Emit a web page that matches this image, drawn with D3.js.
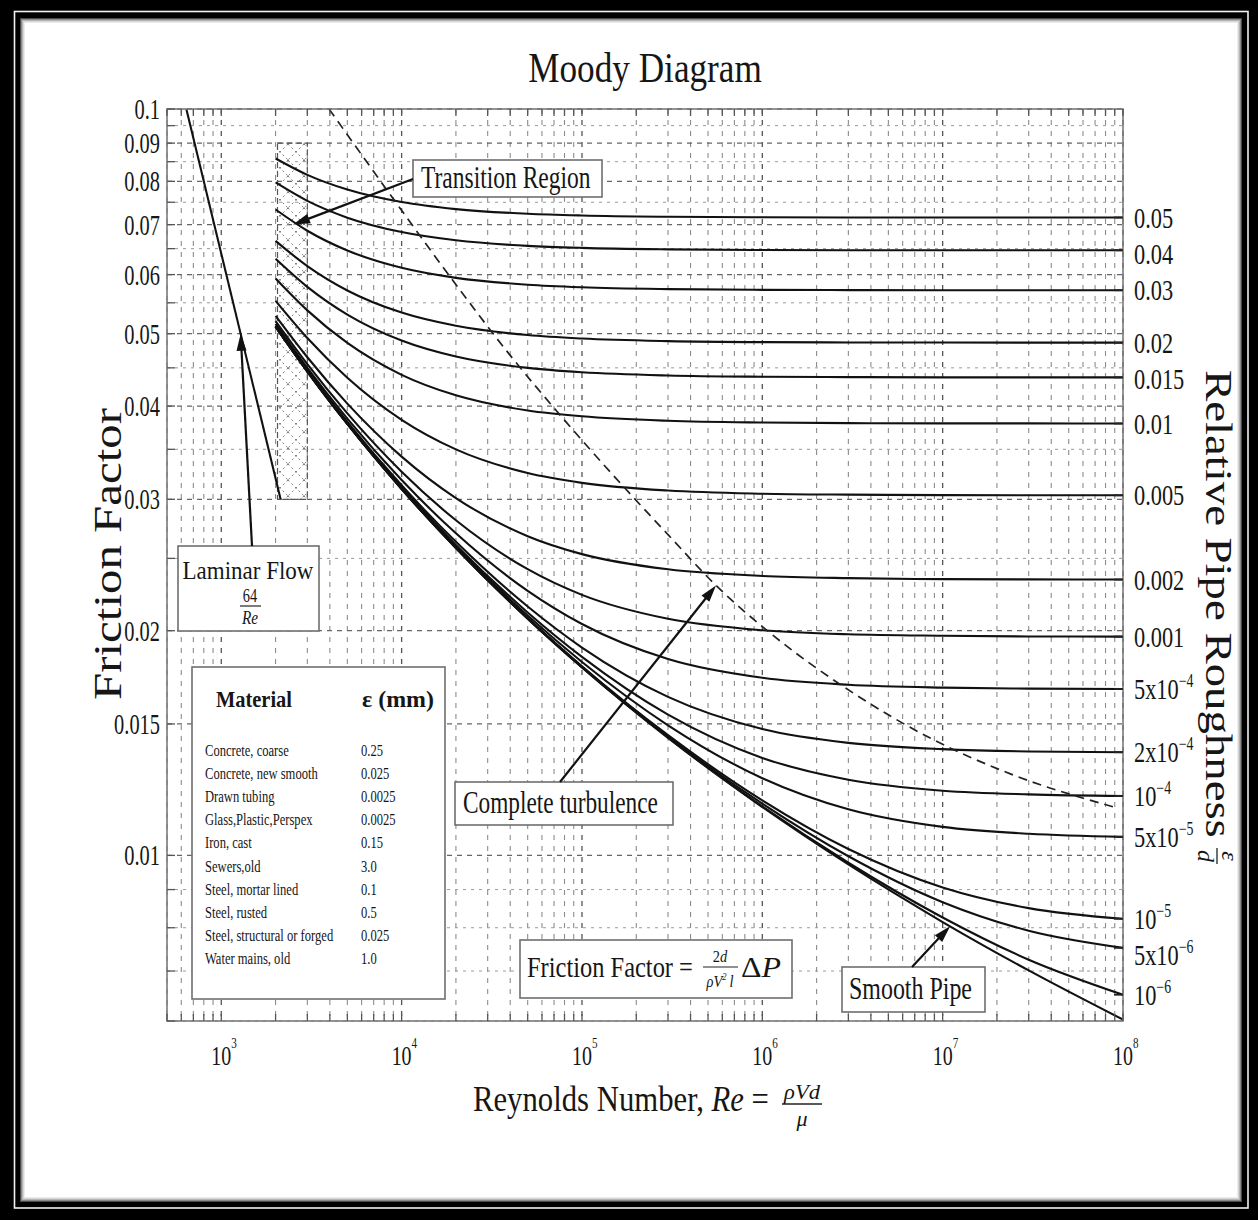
<!DOCTYPE html>
<html><head><meta charset="utf-8">
<script src="https://cdn.jsdelivr.net/npm/d3@7"></script>
<style>
body{margin:0;background:#000}
svg{display:block}
text{font-family:"Liberation Serif","Times New Roman",serif;fill:#161616}
</style>
</head><body>
<svg id="c" width="1258" height="1220"></svg>
<script>
// ---------------- DATA ----------------
const reynolds = [2000, 3000, 5000, 1e4, 2e4, 5e4, 1e5, 3e5, 1e6, 3e6, 1e7, 3e7, 1e8];
const roughness = [0.05, 0.04, 0.03, 0.02, 0.015, 0.01, 0.005, 0.002, 0.001, 5e-4, 2e-4, 1e-4, 5e-5, 1e-5, 5e-6, 1e-6];
const roughnessBase = ["0.05","0.04","0.03","0.02","0.015","0.01","0.005","0.002","0.001","5x10","2x10","10","5x10","10","5x10","10"];
const roughnessExp  = ["","","","","","","","","","\u22124","\u22124","\u22124","\u22125","\u22125","\u22126","\u22126"];

const fRough0_05   = [0.08584, 0.08161, 0.07799, 0.07504, 0.07343, 0.07238, 0.07200, 0.07172, 0.07161, 0.07157, 0.07156, 0.07155, 0.07155];
const fRough0_04   = [0.07972, 0.07532, 0.07152, 0.06841, 0.06669, 0.06556, 0.06515, 0.06485, 0.06473, 0.06469, 0.06468, 0.06467, 0.06467];
const fRough0_03   = [0.07334, 0.06869, 0.06463, 0.06127, 0.05940, 0.05816, 0.05770, 0.05737, 0.05724, 0.05720, 0.05718, 0.05717, 0.05717];
const fRough0_02   = [0.06658, 0.06159, 0.05713, 0.05336, 0.05123, 0.04979, 0.04926, 0.04887, 0.04871, 0.04867, 0.04865, 0.04864, 0.04864];
const fRough0_015  = [0.06302, 0.05778, 0.05304, 0.04895, 0.04659, 0.04499, 0.04439, 0.04395, 0.04378, 0.04373, 0.04370, 0.04369, 0.04369];
const fRough0_01   = [0.05928, 0.05373, 0.04859, 0.04404, 0.04134, 0.03946, 0.03875, 0.03822, 0.03801, 0.03794, 0.03792, 0.03791, 0.03790];
const fRough0_005  = [0.05533, 0.04934, 0.04364, 0.03833, 0.03499, 0.03253, 0.03156, 0.03082, 0.03052, 0.03043, 0.03039, 0.03037, 0.03037];
const fRough0_002  = [0.05283, 0.04650, 0.04030, 0.03422, 0.03011, 0.02677, 0.02533, 0.02417, 0.02368, 0.02352, 0.02345, 0.02343, 0.02342];
const fRough0_001  = [0.05197, 0.04551, 0.03910, 0.03266, 0.02812, 0.02418, 0.02234, 0.02075, 0.02003, 0.01978, 0.01969, 0.01965, 0.01964];
const fRough5e_4   = [0.05153, 0.04500, 0.03848, 0.03184, 0.02701, 0.02262, 0.02042, 0.01833, 0.01730, 0.01693, 0.01678, 0.01673, 0.01671];
const fRough2e_4   = [0.05127, 0.04470, 0.03810, 0.03132, 0.02631, 0.02155, 0.01899, 0.01631, 0.01477, 0.01415, 0.01388, 0.01378, 0.01375];
const fRough1e_4   = [0.05118, 0.04460, 0.03797, 0.03115, 0.02606, 0.02116, 0.01845, 0.01544, 0.01351, 0.01263, 0.01221, 0.01207, 0.01201];
const fRough5e_5   = [0.05114, 0.04454, 0.03791, 0.03106, 0.02594, 0.02096, 0.01816, 0.01494, 0.01269, 0.01153, 0.01092, 0.01069, 0.01059];
const fRough1e_5   = [0.05110, 0.04450, 0.03786, 0.03099, 0.02584, 0.02080, 0.01792, 0.01449, 0.01185, 0.01020, 0.009059, 0.008500, 0.008224];
const fRough5e_6   = [0.05109, 0.04449, 0.03785, 0.03098, 0.02583, 0.02078, 0.01789, 0.01443, 0.01173, 0.009974, 0.008657, 0.007927, 0.007519];
const fRough1e_6   = [0.05109, 0.04449, 0.03785, 0.03097, 0.02581, 0.02076, 0.01787, 0.01439, 0.01163, 0.009776, 0.008258, 0.007249, 0.006506];
const fSmooth      = [0.05109, 0.04449, 0.03785, 0.03097, 0.02581, 0.02076, 0.01786, 0.01437, 0.01161, 0.009724, 0.008142, 0.007013, 0.006026];

const laminarRe = [640, 2133];
const laminarF  = [0.1, 0.03];
const transitionRe = [2050, 3000];
const transitionF  = [0.03, 0.09];

const turbulenceRe = [3957, 10440, 21070, 39900, 78500, 154400, 300000, 553500, 1.161e6, 3.184e6, 8.73e6, 2.393e7, 9.385e7];
const turbulenceF  = [0.1, 0.0721, 0.0572, 0.0468, 0.0385, 0.0320, 0.0269, 0.0230, 0.01967, 0.01651, 0.01432, 0.01285, 0.01157];

const yTickValues = [0.1, 0.09, 0.08, 0.07, 0.06, 0.05, 0.04, 0.03, 0.02, 0.015, 0.01];
const yTickLabels = ["0.1","0.09","0.08","0.07","0.06","0.05","0.04","0.03","0.02","0.015","0.01"];
const yMinorGrid  = [0.006, 0.007, 0.008, 0.009, 0.025, 0.035, 0.045, 0.055, 0.065, 0.075, 0.085, 0.095];
const xTickValues = [1e3, 1e4, 1e5, 1e6, 1e7, 1e8];
const xTickExp    = ["3","4","5","6","7","8"];

const materials = ["Concrete, coarse","Concrete, new smooth","Drawn tubing","Glass,Plastic,Perspex","Iron, cast","Sewers,old","Steel, mortar lined","Steel, rusted","Steel, structural or forged","Water mains, old"];
const materialEps = ["0.25","0.025","0.0025","0.0025","0.15","3.0","0.1","0.5","0.025","1.0"];

const frictionCurves = [fRough0_05, fRough0_04, fRough0_03, fRough0_02, fRough0_015, fRough0_01, fRough0_005,
  fRough0_002, fRough0_001, fRough5e_4, fRough2e_4, fRough1e_4, fRough5e_5, fRough1e_5, fRough5e_6, fRough1e_6, fSmooth];

// ---------------- SETUP ----------------
const W = 1258, H = 1220;
const svg = d3.select('#c');
const x = d3.scaleLog().domain([500, 1e8]).range([167, 1123]);
const y = d3.scaleLog().domain([0.006, 0.1]).range([1021, 109]);
const X0 = x.range()[0], X1 = x.range()[1], Y0 = y.range()[1], Y1 = y.range()[0];

function label(parent, o) {
  const g = parent.append('g');
  const t = g.append('text').attr('font-size', o.size).attr('text-anchor', o.anchor || 'start');
  if (o.weight) t.attr('font-weight', o.weight);
  if (o.style) t.attr('font-style', o.style);
  (o.parts || [{t: o.text}]).forEach(p => {
    const ts = t.append('tspan').text(p.t);
    if (p.size) ts.attr('font-size', p.size);
    if (p.dy) ts.attr('dy', p.dy);
    if (p.style) ts.attr('font-style', p.style);
  });
  let s = o.sx || 1;
  if (o.width) { const w = t.node().getBBox().width; s = o.width / w; }
  g.attr('transform', `translate(${o.x},${o.y}) rotate(${o.rotate || 0}) scale(${s},1)`);
  return g;
}

// ---------------- FRAME ----------------
svg.append('rect').attr('width', W).attr('height', H).attr('fill', '#000');
svg.append('rect').attr('x', 14.5).attr('y', 11.5).attr('width', 1248 - 14.5).attr('height', 1208 - 11.5)
  .attr('fill', 'none').attr('stroke', '#f2f2f2').attr('stroke-width', 1.6);
svg.append('rect').attr('x', 20).attr('y', 18).attr('width', 1242 - 20).attr('height', 1202 - 18).attr('fill', '#fff');
['#4a4a4a', '#8a8a8a', '#b5b5b5', '#d6d6d6', '#ececec'].forEach((c, i) => {
  svg.append('rect').attr('x', 20.5 + i).attr('y', 18.5 + i).attr('width', 1242 - 20 - 1 - 2 * i).attr('height', 1202 - 18 - 1 - 2 * i)
    .attr('fill', 'none').attr('stroke', c).attr('stroke-width', 1);
});

// ---------------- GRID ----------------
const grid = svg.append('g');
const xGrid = [];
for (let e = 2; e <= 7; e++) for (let m = 1; m <= 9; m++) { const v = m * Math.pow(10, e); if (v >= 500 && v <= 1e8) xGrid.push(v); }
xGrid.push(1e8);
grid.selectAll('line.vx').data(xGrid).join('line')
  .attr('x1', d => x(d)).attr('x2', d => x(d)).attr('y1', Y0).attr('y2', Y1)
  .attr('stroke', d => xTickValues.includes(d) ? '#555' : '#8c8c8c')
  .attr('stroke-width', d => xTickValues.includes(d) ? 1.3 : 1.1)
  .attr('stroke-dasharray', '5,6');
grid.selectAll('line.hmin').data(yMinorGrid).join('line')
  .attr('x1', X0).attr('x2', X1).attr('y1', d => y(d)).attr('y2', d => y(d))
  .attr('stroke', '#9a9a9a').attr('stroke-width', 1).attr('stroke-dasharray', '3,5');
grid.selectAll('line.hmaj').data(yTickValues).join('line')
  .attr('x1', X0).attr('x2', X1).attr('y1', d => y(d)).attr('y2', d => y(d))
  .attr('stroke', '#666').attr('stroke-width', 1.3).attr('stroke-dasharray', '5,5');

// ---------------- TRANSITION HATCH ----------------
const defs = svg.append('defs');
const pat = defs.append('pattern').attr('id', 'hatch').attr('patternUnits', 'userSpaceOnUse').attr('width', 16).attr('height', 16);
pat.append('path').attr('d', 'M0,0L16,16M16,0L0,16').attr('stroke', '#7a7a7a').attr('stroke-width', 1).attr('stroke-dasharray', '2,3').attr('fill', 'none');
svg.append('rect')
  .attr('x', x(transitionRe[0])).attr('y', y(transitionF[1]))
  .attr('width', x(transitionRe[1]) - x(transitionRe[0])).attr('height', y(transitionF[0]) - y(transitionF[1]))
  .attr('fill', 'url(#hatch)').attr('stroke', '#555').attr('stroke-width', 1.2).attr('stroke-dasharray', '6,3');

// ---------------- CURVES ----------------
const line = d3.line().x(d => x(d[0])).y(d => y(d[1])).curve(d3.curveMonotoneX);
svg.append('g').selectAll('path').data(frictionCurves).join('path')
  .attr('d', c => line(reynolds.map((r, i) => [r, c[i]])))
  .attr('fill', 'none').attr('stroke', '#111').attr('stroke-width', 2.1);
svg.append('path').attr('d', d3.line().x(d => x(d[0])).y(d => y(d[1]))(laminarRe.map((r, i) => [r, laminarF[i]])))
  .attr('fill', 'none').attr('stroke', '#111').attr('stroke-width', 2.1);
svg.append('path').attr('d', line(turbulenceRe.map((r, i) => [r, turbulenceF[i]])))
  .attr('fill', 'none').attr('stroke', '#222').attr('stroke-width', 1.7).attr('stroke-dasharray', '9,6');

// ---------------- AXES BOX & TICKS ----------------
svg.append('rect').attr('x', X0).attr('y', Y0).attr('width', X1 - X0).attr('height', Y1 - Y0)
  .attr('fill', 'none').attr('stroke', '#7a7a7a').attr('stroke-width', 1.6);
const ticks = svg.append('g').attr('stroke', '#555').attr('stroke-width', 1.3);
ticks.selectAll('line.lt').data(yTickValues.concat(yMinorGrid)).join('line')
  .attr('x1', X0).attr('x2', X0 + 8).attr('y1', d => y(d)).attr('y2', d => y(d));
ticks.selectAll('line.bt').data(xGrid).join('line')
  .attr('x1', d => x(d)).attr('x2', d => x(d)).attr('y1', Y1).attr('y2', Y1 - 7);
ticks.selectAll('line.tt').data(xGrid).join('line')
  .attr('x1', d => x(d)).attr('x2', d => x(d)).attr('y1', Y0).attr('y2', Y0 + 7);
const endF = frictionCurves.slice(0, roughness.length).map(c => c[c.length - 1]);
ticks.selectAll('line.rt').data(endF).join('line')
  .attr('x1', X1).attr('x2', X1 - 9).attr('y1', d => y(d)).attr('y2', d => y(d)).attr('stroke', '#222').attr('stroke-width', 1.8);

// ---------------- AXIS LABELS ----------------
yTickValues.forEach((v, i) => label(svg, {x: 160, y: y(v) + 10, size: 30, sx: 0.68, anchor: 'end', text: yTickLabels[i]}));
xTickValues.forEach((v, i) => label(svg, {x: x(v) - 10, y: 1065, size: 27, sx: 0.74,
  parts: [{t: '10'}, {t: xTickExp[i], size: 15, dy: -17}]}));

// right roughness labels with collision avoidance
const ry = endF.map(f => y(f));
for (let i = 1; i < ry.length; i++) if (ry[i] - ry[i - 1] < 36) ry[i] = ry[i - 1] + 36;
roughness.forEach((r, i) => {
  const parts = [{t: roughnessBase[i]}];
  if (roughnessExp[i]) parts.push({t: roughnessExp[i], size: 18, dy: -12});
  label(svg, {x: 1134, y: ry[i] + 10, size: 29, sx: 0.77, parts});
});

// Titles
label(svg, {x: 645, y: 82, size: 42, width: 234, anchor: 'middle', text: 'Moody Diagram'});
label(svg, {x: 121, y: 554, size: 39, width: 292, anchor: 'middle', rotate: -90, text: 'Friction Factor'});
label(svg, {x: 1206, y: 370, size: 37, width: 468, anchor: 'start', rotate: 90, text: 'Relative Pipe Roughness'});
// epsilon / d fraction (rotated)
const fr = svg.append('g').attr('transform', 'translate(1206,856) rotate(90)');
fr.append('text').attr('font-size', 24).attr('font-style', 'italic').attr('text-anchor', 'middle').attr('y', -16).text('\u03b5');
fr.append('line').attr('x1', -8).attr('x2', 8).attr('y1', -11).attr('y2', -11).attr('stroke', '#222').attr('stroke-width', 1.3);
fr.append('text').attr('font-size', 24).attr('font-style', 'italic').attr('text-anchor', 'middle').attr('y', 8).text('d');

label(svg, {x: 473, y: 1111, size: 35, width: 296,
  parts: [{t: 'Reynolds Number, '}, {t: 'Re', style: 'italic'}, {t: ' ='}]});
label(svg, {x: 802, y: 1099, size: 22, width: 38, anchor: 'middle', style: 'italic', text: '\u03c1Vd'});
svg.append('line').attr('x1', 782).attr('x2', 822).attr('y1', 1104).attr('y2', 1104).attr('stroke', '#222').attr('stroke-width', 1.4);
label(svg, {x: 802, y: 1126, size: 22, anchor: 'middle', style: 'italic', text: '\u03bc'});

// ---------------- ANNOTATIONS ----------------
function box(x0, y0, x1, y1) {
  svg.append('rect').attr('x', x0).attr('y', y0).attr('width', x1 - x0).attr('height', y1 - y0)
    .attr('fill', '#fff').attr('stroke', '#6e6e6e').attr('stroke-width', 1.6);
}
function arrow(x1, y1, x2, y2) {
  const a = Math.atan2(y2 - y1, x2 - x1), L = 17, w = 5;
  svg.append('line').attr('x1', x1).attr('y1', y1).attr('x2', x2 - Math.cos(a) * L * 0.7).attr('y2', y2 - Math.sin(a) * L * 0.7)
    .attr('stroke', '#111').attr('stroke-width', 2.2);
  const bx = x2 - Math.cos(a) * L, by = y2 - Math.sin(a) * L;
  svg.append('path').attr('d', `M${x2},${y2}L${bx + Math.sin(a) * w},${by - Math.cos(a) * w}L${bx - Math.sin(a) * w},${by + Math.cos(a) * w}Z`)
    .attr('fill', '#111');
}

// Transition region
box(413, 160, 602, 197);
label(svg, {x: 421, y: 188, size: 31, width: 170, text: 'Transition Region'});
arrow(413, 179, x(2500), y(0.07));

// Laminar flow
box(178, 546, 319, 631);
label(svg, {x: 248, y: 579, size: 25, width: 131, anchor: 'middle', text: 'Laminar Flow'});
label(svg, {x: 250, y: 602, size: 18, sx: 0.8, anchor: 'middle', text: '64'});
svg.append('line').attr('x1', 240).attr('x2', 261).attr('y1', 606).attr('y2', 606).attr('stroke', '#222').attr('stroke-width', 1.2);
label(svg, {x: 250, y: 624, size: 19, sx: 0.8, anchor: 'middle', style: 'italic', text: 'Re'});
arrow(252, 546, x(1280), y(0.05));

// Material table
box(192, 667, 445, 999);
label(svg, {x: 216, y: 707, size: 23, width: 76, weight: 'bold', text: 'Material'});
label(svg, {x: 362, y: 707, size: 23, width: 72, weight: 'bold', text: '\u03b5 (mm)'});
materials.forEach((m, i) => {
  label(svg, {x: 205, y: 756 + i * 23.1, size: 17, sx: 0.74, text: m});
  label(svg, {x: 361, y: 756 + i * 23.1, size: 17, sx: 0.74, text: materialEps[i]});
});

// Complete turbulence
box(455, 782, 673, 825);
label(svg, {x: 463, y: 813, size: 31, width: 195, text: 'Complete turbulence'});
arrow(560, 782, x(553500), y(0.0230));

// Friction factor formula
box(520, 940, 792, 998);
label(svg, {x: 527, y: 977, size: 30, width: 166, text: 'Friction Factor ='});
label(svg, {x: 720, y: 962, size: 17, sx: 0.85, anchor: 'middle', parts: [{t: '2'}, {t: 'd', style: 'italic'}]});
svg.append('line').attr('x1', 703).attr('x2', 738).attr('y1', 967).attr('y2', 967).attr('stroke', '#222').attr('stroke-width', 1.2);
label(svg, {x: 720, y: 987, size: 17, sx: 0.85, anchor: 'middle', style: 'italic',
  parts: [{t: '\u03c1V'}, {t: '2', size: 10, dy: -7}, {t: '\u2009l', dy: 7}]});
label(svg, {x: 741, y: 977, size: 30, width: 40, parts: [{t: '\u0394'}, {t: 'P', style: 'italic'}]});

// Smooth pipe
box(842, 967, 985, 1012);
label(svg, {x: 849, y: 999, size: 31, width: 123, text: 'Smooth Pipe'});
arrow(912, 967, x(1.1e7), y(0.00804));
</script>
</body></html>
